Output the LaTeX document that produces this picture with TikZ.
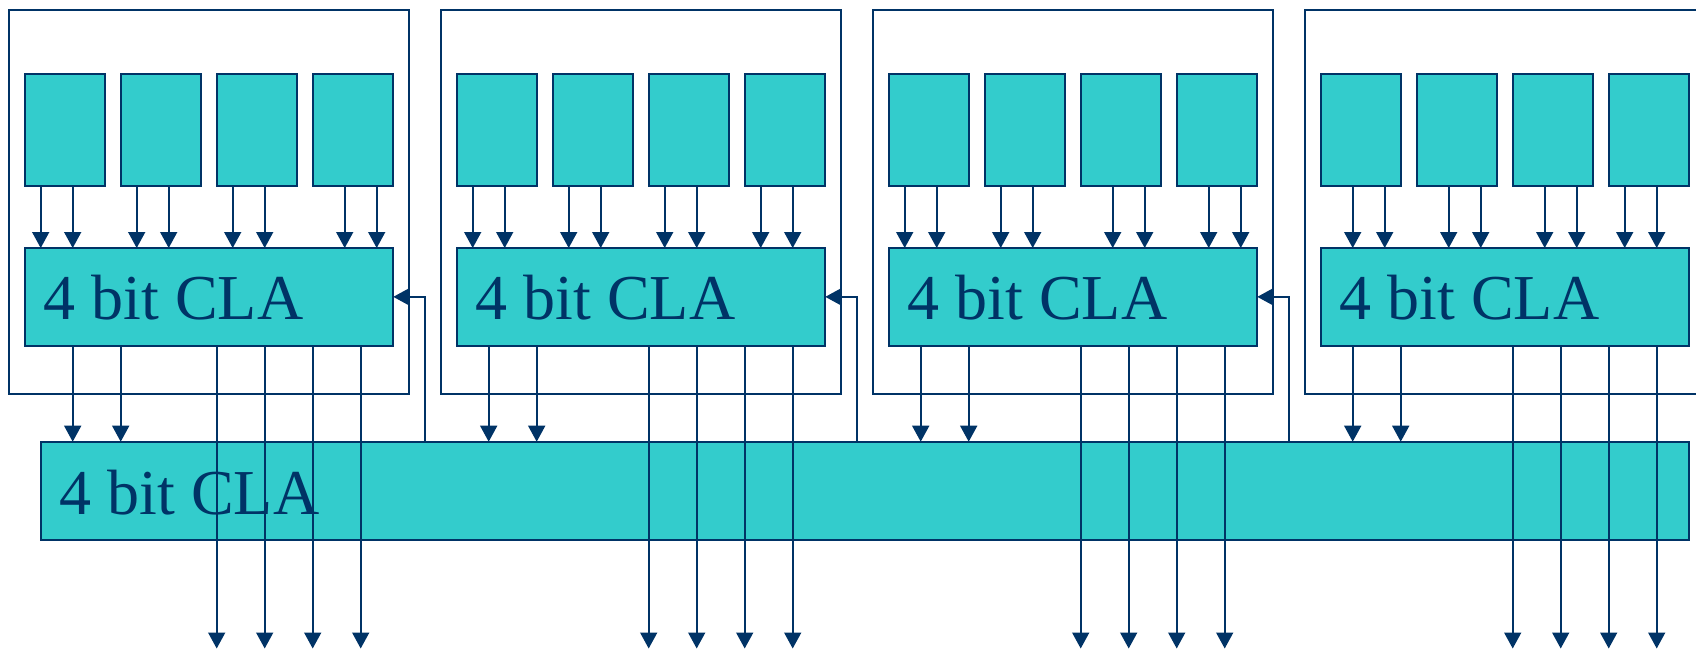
\documentclass[tikz,border=0pt]{standalone}
\usepackage{fontspec}
\setmainfont{Liberation Serif}
\usetikzlibrary{arrows.meta,calc}
\definecolor{navy}{HTML}{003366}
\definecolor{aqua}{HTML}{33CCCC}
\begin{document}
\begin{tikzpicture}[x=0.5pt,y=-0.5pt,
  every node/.style={inner sep=0pt,outer sep=0pt},
  frame/.style={draw=navy,line width=0.85pt,minimum width=200.15pt,minimum height=191.7pt,anchor=north west},
  cell/.style={draw=navy,fill=aqua,line width=0.85pt,minimum width=40.3pt,minimum height=56pt,anchor=north west},
  adder/.style={draw=navy,fill=aqua,line width=0.85pt,minimum width=184.3pt,minimum height=48.85pt,anchor=north west},
  lbl/.style={text=navy,font=\fontsize{32}{38}\selectfont,anchor=base west},
  wire/.style={draw=navy,line width=0.85pt,-{Triangle[width=8.5pt,length=8pt]}},
]
\clip (0,0) rectangle (1696,649);
\fill[white] (0,0) rectangle (1696,649);
\coordinate (bottom) at (0,648.5);

% second-level carry lookahead unit
\node[adder,minimum width=824.3pt,minimum height=49.15pt] (main) at (40.7,441.7) {};
\node[lbl] (tmain) at ($(main.west)+(19,24)$) {4 bit CLA};

% four 16-bit groups: four 4-bit cells feeding one 4-bit CLA each
\foreach \k/\a/\b/\c/\d/\m in {0/16/16/16/32/48, 1/16/16/16/16/32, 2/16/16/32/32/32, 3/32/32/32/16/32} {
  \node[frame] (f\k) at (8.7+432*\k,10.3) {};
  \node[adder] (cla\k) at (24.7+432*\k,248) {};
  \node[lbl] (t\k) at ($(cla\k.west)+(19,23)$) {4 bit CLA};
  \foreach \o [count=\j from 0] in {\a,\b,\c,\d} {
    \node[cell] (c\k-\j) at (24.7+432*\k+96*\j,73.7) {};
    \draw[wire] ($(c\k-\j.south west)+(\o,0)$) coordinate (p) -- (p |- cla\k.north);
    \draw[wire] ($(c\k-\j.south west)+(\o+32,0)$) coordinate (p) -- (p |- cla\k.north);
  }
  % group generate / propagate into the second level
  \foreach \o in {\m,\m+48} {
    \draw[wire] ($(cla\k.south west)+(\o,0)$) coordinate (p) -- (p |- main.north);
  }
  % sum outputs
  \foreach \o in {192,240,288,336} {
    \draw[wire] ($(cla\k.south west)+(\o,0)$) coordinate (p) -- (p |- bottom);
  }
  % carry back from the second level
  \ifnum\k<3
    \coordinate (r\k) at ($(cla\k.east)+(31.4,0)$);
    \draw[wire] (r\k |- main.north) -- (r\k) -- (cla\k.east);
  \fi
}
\end{tikzpicture}
\end{document}
